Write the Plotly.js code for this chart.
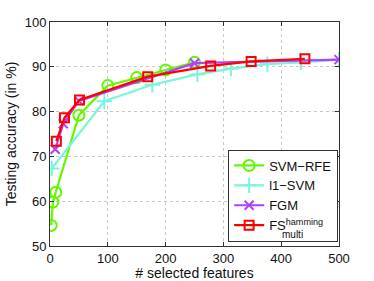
<!DOCTYPE html>
<html>
<head>
<meta charset="utf-8">
<script src="https://cdn.plot.ly/plotly-3.0.1.min.js"></script>
<style>html,body{margin:0;padding:0;background:#fff}#chart{width:374px;height:281px}</style>
</head>
<body>
<div id="chart"></div>
<script>
var seriesNames = ['SVM\u2212RFE', 'l1\u2212SVM', 'FGM', 'FS<sup>hamming</sup>'];
var svmRfeX = [2, 5, 10, 50, 100, 150, 200, 250];
var svmRfeY = [54.6, 59.8, 62.0, 79.2, 85.8, 87.6, 89.3, 91.0];
var l1SvmX = [3, 94, 177, 255, 313, 376, 434, 500];
var l1SvmY = [67.3, 82.3, 86.0, 88.3, 89.6, 90.6, 91.0, 91.6];
var fgmX = [9, 23, 50, 250, 500];
var fgmY = [71.6, 77.3, 82.4, 90.8, 91.6];
var fsX = [11, 25, 51, 169, 278, 348, 441];
var fsY = [73.4, 78.6, 82.6, 87.8, 90.2, 91.2, 91.8];
var xTicks = [0, 100, 200, 300, 400, 500];
var yTicks = [50, 60, 70, 80, 90, 100];

var colors = ['#62f800', '#7af5dc', '#b040ff', '#ff0000'];
function tr(x, y, name, color, symbol, msize) {
  return {x: x, y: y, name: name, type: 'scatter', mode: 'lines+markers',
    line: {color: color, width: 2.2},
    marker: {symbol: symbol, size: msize, color: color, line: {color: color, width: 2}}};
}
var data = [
  tr(svmRfeX, svmRfeY, seriesNames[0], colors[0], 'circle-open', 11),
  tr(l1SvmX, l1SvmY, seriesNames[1], colors[1], 'cross-thin-open', 11),
  tr(fgmX, fgmY, seriesNames[2], colors[2], 'x-thin-open', 9),
  tr(fsX, fsY, seriesNames[3], colors[3], 'square-open', 9)
];
var axisCommon = {showline: true, linecolor: '#333', linewidth: 1, mirror: 'ticks',
  ticks: 'inside', ticklen: 4, tickcolor: '#333', showgrid: true, gridcolor: '#c8c8c8',
  griddash: 'dot', gridwidth: 1, zeroline: false, tickfont: {size: 13, color: '#111'}};
var layout = {
  width: 374, height: 281,
  margin: {l: 50, r: 35, t: 22, b: 35},
  font: {family: 'Liberation Sans, Arial, sans-serif', color: '#111'},
  paper_bgcolor: '#fff', plot_bgcolor: '#fff',
  xaxis: Object.assign({}, axisCommon, {range: [0, 500], tickvals: xTicks,
    title: {text: '# selected features', font: {size: 14}, standoff: 7}}),
  yaxis: Object.assign({}, axisCommon, {range: [50, 100], tickvals: yTicks,
    title: {text: 'Testing accuracy (in %)', font: {size: 14}, standoff: 4}}),
  legend: {x: 0.997, xanchor: 'right', y: 0.02, yanchor: 'bottom', bgcolor: '#fff',
    bordercolor: '#333', borderwidth: 1, font: {size: 13}, tracegroupgap: 0,
    itemwidth: 30},
  showlegend: true,
  annotations: [{xref: 'paper', yref: 'paper', x: 0.8, y: 0.05, xanchor: 'left', yanchor: 'middle',
    text: 'multi', showarrow: false, font: {size: 10}, borderpad: 0}]
};
Plotly.newPlot('chart', data, layout, {staticPlot: true, displayModeBar: false});
</script>
</body>
</html>
